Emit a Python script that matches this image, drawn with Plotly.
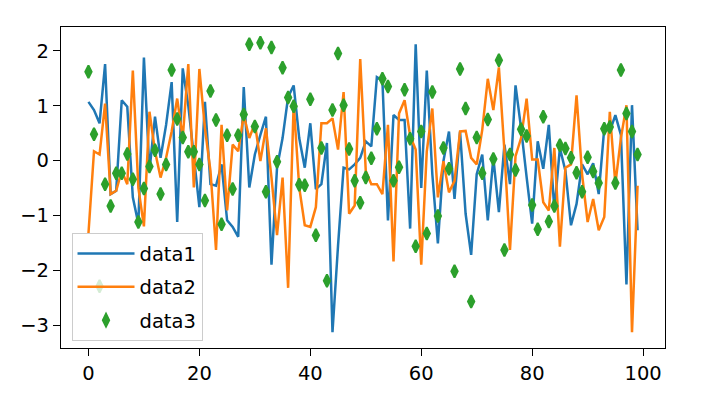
import plotly.graph_objects as go

data1 = [1.07, 0.92, 0.68, 1.76, -0.61, -0.55, 1.10, 0.98, -0.67, -1.15,
         1.88, -0.19, 0.80, 0.05, 0.65, 1.43, -1.12, 1.68, 1.00, 0.10,
         -0.85, 1.07, -0.43, -0.46, -0.07, -1.09, -1.21, -1.39, 1.34, -0.49,
         0.11, 0.47, 0.80, -1.90, -0.13, 0.41, 1.16, 1.37, 0.41, -0.13,
         0.68, -0.52, -0.43, 0.32, -3.13, -1.55, -0.13, -0.16, -0.07, 0.05,
         0.35, 0.26, 1.52, 1.46, -1.09, 0.83, 0.74, 0.74, -1.24, 2.12,
         -0.50, 1.64, -0.25, -1.51, -0.01, 0.53, -0.70, 0.53, -0.97, -1.72,
         -0.25, 0.11, -1.09, 0.05, -0.94, 0.29, -0.43, 1.37, 0.59, -0.30,
         -1.15, 0.35, -0.15, 0.65, -0.91, 0.23, -0.19, -1.18, -0.79, -0.07,
         -0.25, -0.05, -0.61, 0.59, 0.53, 0.83, 0.47, -2.26, 1.01, -1.27]

data2 = [-1.33, 0.17, 0.11, 1.04, -0.61, -0.55, -0.19, -0.43, 1.64, -0.50,
         -1.20, 0.89, 0.17, -0.31, 0.05, 0.53, 1.13, 0.41, 1.76, -0.49,
         1.67, 0.59, -0.19, -1.63, 0.65, -0.91, 0.29, 0.17, 0.83, 0.41,
         0.68, -0.01, 0.59, -0.31, -1.36, -0.31, -2.32, 1.04, -0.49, -1.18,
         -1.21, -0.85, 0.68, 0.68, 0.77, 0.20, 1.25, -0.97, -0.82, 1.85,
         -0.19, -0.43, -0.43, -0.61, 0.65, -1.84, 0.86, 1.10, 0.45, 0.20,
         -1.90, 0.17, 0.95, -0.67, -0.01, -0.58, -0.37, 0.53, 0.54, 0.05,
         -0.07, 0.56, 1.49, 0.92, 1.70, 0.17, -1.63, 0.08, 0.41, 1.13,
         0.02, 0.02, -0.76, -0.91, 0.23, -1.57, -0.13, -0.07, 1.19, -0.25,
         -1.12, -0.70, -1.27, -1.03, 0.89, -0.43, 0.41, 1.01, -3.13, -0.46]

data3 = [1.62, 0.48, -2.29, -0.43, -0.83, -0.23, -0.23, 0.12, -0.34, -1.12,
         -0.51, -0.11, 0.19, -0.61, -0.07, 1.65, 0.76, 0.42, 0.16, 0.16,
         -0.07, -0.73, 1.27, 0.74, -1.16, 0.46, -0.52, 0.46, 0.84, 2.12,
         0.62, 2.15, -0.57, 2.06, -0.02, 1.69, 1.15, 0.99, -0.44, -0.45,
         1.12, -1.36, 0.23, -2.19, 0.92, 1.95, 1.01, 0.21, -0.37, -0.77,
         -0.31, 0.04, 0.58, 1.49, 1.35, -0.37, -0.12, 1.29, 0.40, -1.56,
         0.53, -1.33, 1.25, -1.01, 0.23, -0.15, -2.02, 1.67, 0.95, -2.57,
         0.42, -0.23, 0.75, 0.03, 1.83, -1.63, 0.11, -0.17, 0.57, 0.45,
         -0.81, -1.25, 0.80, -1.11, -0.83, 0.28, 0.22, 0.05, -0.22, -0.57,
         0.06, -0.20, -0.41, 0.58, 0.61, -0.41, 1.65, 0.86, 0.53, 0.11]

x = list(range(len(data1)))
xticks = [0, 20, 40, 60, 80, 100]
yticks = [-3, -2, -1, 0, 1, 2]

fig = go.Figure()
fig.add_trace(go.Scatter(x=x, y=data1, mode="lines", name="data1", legendgroup="g1",
                         line=dict(color="#1f77b4", width=2.5)))
fig.add_trace(go.Scatter(x=x, y=data2, mode="lines", name="data2", legendgroup="g2",
                         line=dict(color="#ff7f0e", width=2.5)))
fig.add_trace(go.Scatter(x=x, y=data3, mode="markers", name="data3", legendgroup="g3",
                         marker=dict(symbol="diamond-tall", size=9, color="#2ca02c",
                                     line=dict(color="#2ca02c", width=2))))

font = dict(family="DejaVu Sans", size=19.5, color="black")
axis_common = dict(showline=True, linecolor="black", linewidth=1.3, mirror=True,
                   ticks="outside", ticklen=7, tickwidth=1.3, tickcolor="black",
                   showgrid=False, zeroline=False, tickfont=font)

# the page body adds an 8px offset, so the figure is 8px smaller on each axis
fig.update_layout(
    width=694, height=389,
    margin=dict(l=52.5, r=37, t=19.3, b=44.3),
    paper_bgcolor="white", plot_bgcolor="white",
    font=font,
    showlegend=True,
    legend=dict(x=0.0174, y=0.021, xanchor="left", yanchor="bottom",
                bgcolor="rgba(255,255,255,0.8)", bordercolor="#cccccc", borderwidth=1,
                font=font, tracegroupgap=5, itemwidth=57),
    xaxis=dict(range=[-4.95, 103.95], tickvals=xticks,
               ticktext=[str(t).replace("-", "\u2212") for t in xticks], **axis_common),
    yaxis=dict(range=[-3.417, 2.435], tickvals=yticks,
               ticktext=[str(t).replace("-", "\u2212") for t in yticks], **axis_common),
)

fig.write_html("out.html")
